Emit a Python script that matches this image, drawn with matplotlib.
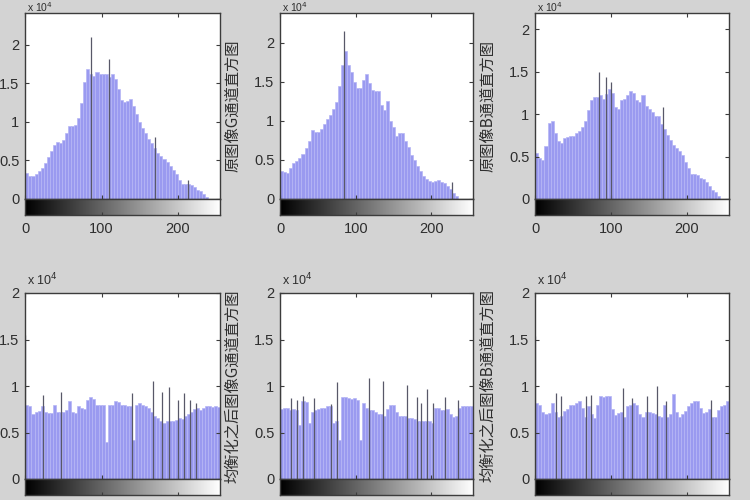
import numpy as np
import matplotlib
matplotlib.use('Agg')
import matplotlib.pyplot as plt

plt.rcParams['font.family'] = ['Liberation Sans', 'DejaVu Sans']

# bin start levels (each bin covers 4 gray levels)
bin_starts = np.arange(0, 256, 4)

# ---- original image histograms (units of 1e4 pixels) ----
r_orig = [0.34, 0.30, 0.30, 0.33, 0.36, 0.40, 0.47, 0.55, 0.62, 0.70, 0.74, 0.72, 0.76, 0.85, 0.95, 0.95,
          0.96, 1.05, 1.25, 1.52, 1.68, 1.62, 1.60, 1.65, 1.62, 1.62, 1.62, 1.58, 1.62, 1.55, 1.42, 1.28,
          1.26, 1.27, 1.30, 1.20, 1.10, 1.00, 0.92, 0.85, 0.78, 0.72, 0.66, 0.60, 0.56, 0.52, 0.48, 0.43,
          0.37, 0.32, 0.25, 0.20, 0.20, 0.19, 0.18, 0.15, 0.12, 0.10, 0.07, 0.03, 0.0, 0.0, 0.0, 0.0]
r_orig_spike_x = [86, 110, 170, 214]
r_orig_spike_y = [2.10, 1.82, 0.80, 0.24]

g_orig = [0.36, 0.34, 0.33, 0.40, 0.46, 0.49, 0.52, 0.58, 0.65, 0.74, 0.88, 0.86, 0.86, 0.90, 0.96, 1.02,
          1.08, 1.15, 1.24, 1.45, 1.72, 1.90, 1.72, 1.62, 1.50, 1.42, 1.42, 1.52, 1.60, 1.48, 1.40, 1.38,
          1.38, 1.20, 1.14, 1.26, 1.00, 0.92, 0.80, 0.84, 0.84, 0.74, 0.66, 0.56, 0.50, 0.42, 0.36, 0.30,
          0.25, 0.23, 0.22, 0.23, 0.24, 0.22, 0.20, 0.17, 0.13, 0.08, 0.04, 0.0, 0.0, 0.0, 0.0, 0.0]
g_orig_spike_x = [85, 228]
g_orig_spike_y = [2.15, 0.22]

b_orig = [0.54, 0.48, 0.46, 0.62, 0.90, 0.92, 0.78, 0.68, 0.66, 0.72, 0.73, 0.74, 0.74, 0.78, 0.80, 0.85,
          0.92, 1.05, 1.16, 1.20, 1.20, 1.22, 1.18, 1.24, 1.30, 1.25, 1.08, 1.06, 1.16, 1.18, 1.22, 1.27,
          1.25, 1.16, 1.14, 1.22, 1.10, 1.06, 1.02, 0.98, 0.98, 0.88, 0.82, 0.75, 0.70, 0.64, 0.60, 0.56,
          0.52, 0.44, 0.37, 0.30, 0.29, 0.28, 0.25, 0.24, 0.20, 0.15, 0.11, 0.08, 0.03, 0.0, 0.0, 0.0]
b_orig_spike_x = [84, 93, 100, 169]
b_orig_spike_y = [1.49, 1.44, 1.38, 1.08]

# ---- equalized histograms ----
r_eq = [0.80, 0.78, 0.70, 0.72, 0.73, 0.78, 0.72, 0.71, 0.71, 0.80, 0.72, 0.72, 0.72, 0.74, 0.84, 0.72,
        0.71, 0.78, 0.76, 0.75, 0.85, 0.88, 0.86, 0.80, 0.80, 0.80, 0.40, 0.80, 0.80, 0.84, 0.83, 0.80,
        0.80, 0.78, 0.78, 0.42, 0.80, 0.82, 0.80, 0.78, 0.76, 0.72, 0.68, 0.66, 0.62, 0.60, 0.62, 0.62,
        0.62, 0.63, 0.66, 0.65, 0.68, 0.70, 0.72, 0.75, 0.76, 0.74, 0.76, 0.78, 0.78, 0.77, 0.78, 0.77]
r_eq_spike_x = [0, 23, 47, 140, 168, 180, 188, 200, 208, 216, 224]
r_eq_spike_y = [1.55, 0.90, 0.94, 0.92, 1.05, 0.94, 0.99, 0.85, 0.92, 0.85, 0.82]

g_eq = [0.75, 0.76, 0.76, 0.74, 0.75, 0.74, 0.58, 0.84, 0.83, 0.60, 0.72, 0.74, 0.75, 0.76, 0.76, 0.78,
        0.78, 0.60, 0.62, 0.42, 0.88, 0.88, 0.87, 0.86, 0.87, 0.85, 0.42, 0.82, 0.76, 0.74, 0.74, 0.72,
        0.70, 0.70, 0.68, 0.75, 0.80, 0.80, 0.72, 0.68, 0.68, 0.68, 0.66, 0.66, 0.64, 0.62, 0.62, 0.62,
        0.62, 0.62, 0.60, 0.76, 0.76, 0.74, 0.74, 0.75, 0.70, 0.67, 0.68, 0.76, 0.78, 0.78, 0.79, 0.78]
g_eq_spike_x = [0, 14, 22, 30, 45, 67, 75, 117, 136, 168, 181, 187, 195, 202, 218, 236]
g_eq_spike_y = [1.52, 0.87, 0.85, 0.89, 0.87, 0.81, 1.04, 1.09, 1.05, 1.01, 0.88, 0.82, 0.97, 0.82, 0.88, 0.85]

b_eq = [0.82, 0.80, 0.72, 0.70, 0.71, 0.82, 0.72, 0.67, 0.68, 0.73, 0.75, 0.80, 0.80, 0.82, 0.84, 0.76,
        0.67, 0.78, 0.70, 0.66, 0.80, 0.89, 0.88, 0.89, 0.89, 0.75, 0.69, 0.71, 0.72, 0.67, 0.78, 0.80,
        0.82, 0.80, 0.70, 0.67, 0.72, 0.72, 0.71, 0.70, 0.68, 0.67, 0.80, 0.67, 0.70, 0.91, 0.72, 0.67,
        0.70, 0.73, 0.78, 0.82, 0.84, 0.84, 0.76, 0.71, 0.72, 0.75, 0.67, 0.67, 0.74, 0.78, 0.80, 0.84]
b_eq_spike_x = [0, 27, 34, 67, 74, 116, 127, 147, 161, 172, 232]
b_eq_spike_y = [1.54, 0.93, 0.89, 0.89, 0.90, 0.98, 0.87, 0.89, 1.00, 0.84, 0.85]

ylabels_top = ['原图像R通道直方图', '原图像G通道直方图', '原图像B通道直方图']
ylabels_bot = ['均衡化之后图像R通道直方图', '均衡化之后图像G通道直方图', '均衡化之后图像B通道直方图']
yticks = [0, 0.5, 1, 1.5, 2]
ytick_labels = ['0', '0.5', '1', '1.5', '2']
xticks = [0, 100, 200]
top_ylim = [2.41, 2.38, 2.19]
bot_ylim = [2.0, 2.0, 2.0]

W, H = 750, 500
fig = plt.figure(figsize=(7.5, 5), dpi=100)
fig.patch.set_facecolor('#d3d3d3')

lefts = [25, 280, 535]
widths = [195, 193, 194]
rows = [
    dict(top=13, bottom=199, cb=215, data=[r_orig, g_orig, b_orig],
         sx=[r_orig_spike_x, g_orig_spike_x, b_orig_spike_x],
         sy=[r_orig_spike_y, g_orig_spike_y, b_orig_spike_y],
         ylim=top_ylim, labels=ylabels_top, showx=True),
    dict(top=293, bottom=479, cb=495, data=[r_eq, g_eq, b_eq],
         sx=[r_eq_spike_x, g_eq_spike_x, b_eq_spike_x],
         sy=[r_eq_spike_y, g_eq_spike_y, b_eq_spike_y],
         ylim=bot_ylim, labels=ylabels_bot, showx=False),
]

text_col = '#2e2e2e'
frame_col = '#3c3c3c'
bar_col = '#9a9af0'

for row in rows:
    for i in range(3):
        l = lefts[i] / W
        w = widths[i] / W
        b = 1 - row['bottom'] / H
        h = (row['bottom'] - row['top']) / H
        ax = fig.add_axes([l, b, w, h])
        ax.set_facecolor('white')
        ax.bar(bin_starts, row['data'][i], width=4, align='edge', color=bar_col,
               edgecolor='#b6b6f5', linewidth=0.5)
        ax.vlines(row['sx'][i], 0, row['sy'][i], color='#585868', linewidth=0.9)
        ax.set_xlim(-0.5, 255.5)
        ax.set_ylim(0, row['ylim'][i])
        ax.set_yticks(yticks)
        ax.set_yticklabels(ytick_labels)
        ax.set_xticks(xticks)
        ax.tick_params(direction='in', length=3, top=True, right=True, labelbottom=False,
                       labelsize=10.5, colors=frame_col, labelcolor=text_col, pad=4)
        for s in ax.spines.values():
            s.set_color(frame_col)
            s.set_linewidth(1.0)
        # "x 10^4" exponent marker above the axes (kept inside the canvas)
        if row['top'] > 20:
            ax.text(lefts[i] / W + 2 / W, 1 - (row['top'] - 5) / H, 'x 10$^{4}$',
                    transform=fig.transFigure, ha='left', va='bottom',
                    fontsize=9, color=text_col)
        else:
            ax.text(lefts[i] / W + 2 / W, 1 - 0.5 / H, 'x 10$^{4}$',
                    transform=fig.transFigure, ha='left', va='top',
                    fontsize=7.5, color=text_col)
        if i > 0:
            ax.set_ylabel(row['labels'][i], family=['Noto Sans CJK SC', 'DejaVu Sans'],
                          fontsize=11, color=text_col)
            ax.yaxis.set_label_coords(-39 / widths[i], 0.5)

        # grayscale colorbar below
        cb_b = 1 - row['cb'] / H
        cb_h = (row['cb'] - row['bottom']) / H
        cax = fig.add_axes([l, cb_b, w, cb_h])
        cax.imshow(np.arange(256)[None, :], cmap='gray', aspect='auto',
                   extent=(-0.5, 255.5, 0, 1), vmin=0, vmax=255)
        cax.set_xlim(-0.5, 255.5)
        cax.set_yticks([])
        cax.set_xticks(xticks)
        cax.tick_params(direction='in', length=2, labelsize=10.5, colors=frame_col,
                        labelcolor=text_col, labelbottom=row['showx'], pad=5)
        for s in cax.spines.values():
            s.set_color(frame_col)
            s.set_linewidth(1.0)

fig.savefig('out.png', dpi=100, facecolor=fig.get_facecolor())
